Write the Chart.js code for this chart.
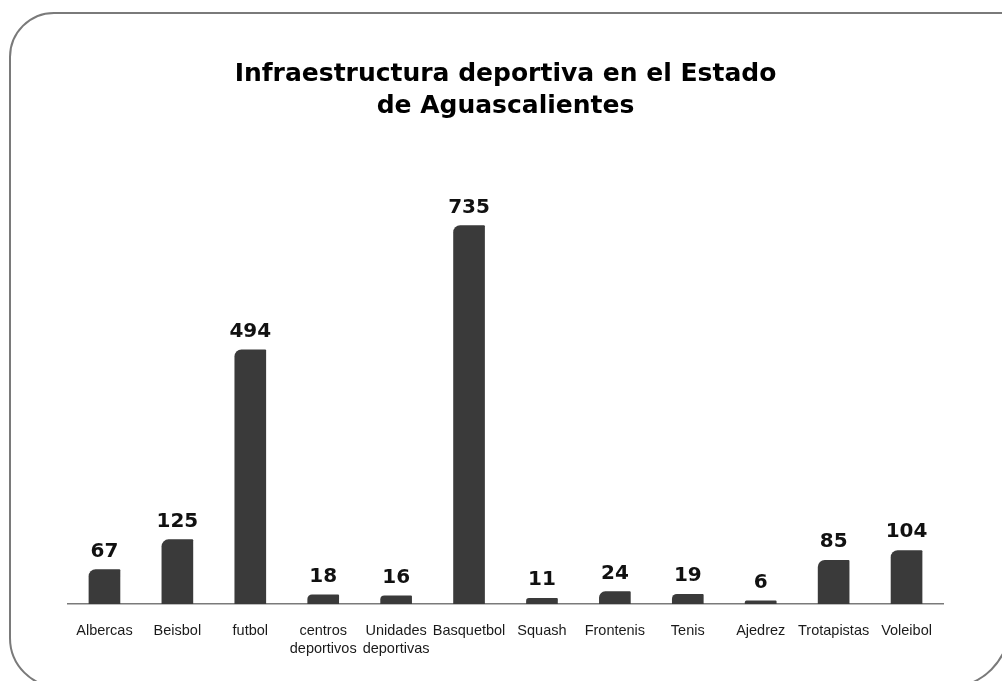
<!DOCTYPE html>
<html>
<head>
<meta charset="utf-8">
<script src="https://cdn.jsdelivr.net/npm/chart.js@4"></script>
<style>
  html, body { margin: 0; padding: 0; background: #fff; overflow: hidden; }
  #wrap { position: relative; width: 1002px; height: 681px; overflow: hidden; }
  #frame {
    position: absolute; left: 9px; top: 12px; width: 1001px; height: 676px;
    box-sizing: border-box; border: 2.5px solid #7a7a7a;
    border-radius: 45px 4px 61px 50px;
  }
  #chart { position: absolute; left: 0; top: 0; }
</style>
</head>
<body>
<div id="wrap">
  <div id="frame"></div>
  <canvas id="chart" width="1002" height="681"></canvas>
</div>
<script>
// data
const categorias = [
  'Albercas', 'Beisbol', 'futbol', ['centros', 'deportivos'], ['Unidades', 'deportivas'],
  'Basquetbol', 'Squash', 'Frontenis', 'Tenis', 'Ajedrez', 'Trotapistas', 'Voleibol'
];
const cantidades = [67, 125, 494, 18, 16, 735, 11, 24, 19, 6, 85, 104];
const titulo = ['Infraestructura deportiva en el Estado', 'de Aguascalientes'];

// value labels above each bar
const valueLabels = {
  id: 'valueLabels',
  afterDatasetsDraw: (chart) => {
    const ctx = chart.ctx;
    const meta = chart.getDatasetMeta(0);
    ctx.save();
    ctx.font = 'bold 20px "DejaVu Sans"';
    ctx.fillStyle = '#111';
    ctx.textAlign = 'center';
    ctx.textBaseline = 'alphabetic';
    meta.data.forEach((bar, i) => {
      ctx.fillText(String(cantidades[i]), bar.x, bar.y - 13);
    });
    ctx.restore();
  }
};

const config = {
  type: 'bar',
  data: {
    labels: categorias,
    datasets: [{
      data: cantidades,
      backgroundColor: '#3a3a3a',
      borderWidth: 0,
      borderRadius: { topLeft: 7, topRight: 1 },
      borderSkipped: 'start',
      barThickness: 31
    }]
  },
  options: {
    responsive: false,
    animation: false,
    layout: { padding: { left: 68, right: 59, top: 0, bottom: 5 } },
    plugins: {
      legend: { display: false },
      tooltip: { enabled: false },
      title: {
        display: true,
        text: titulo,
        color: '#000',
        font: { family: '"DejaVu Sans"', size: 25, weight: 'bold', lineHeight: 1.3 },
        padding: { top: 58, bottom: 28 }
      }
    },
    scales: {
      x: {
        grid: { display: false, drawTicks: false },
        border: { display: true, color: '#7a7a7a', width: 1.5 },
        ticks: {
          color: '#1a1a1a',
          padding: 18,
          maxRotation: 0,
          autoSkip: false,
          font: { family: '"Liberation Sans"', size: 14.5, lineHeight: 1.24 }
        }
      },
      y: {
        display: false,
        min: 0,
        max: 880
      }
    }
  },
  plugins: [valueLabels]
};

const myChart = new Chart(document.getElementById('chart'), config);
</script>
</body>
</html>
